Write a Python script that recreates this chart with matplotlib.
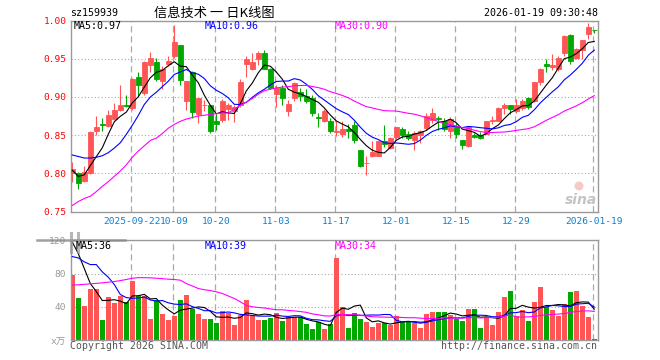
import numpy as np
import pandas as pd
import matplotlib
matplotlib.use('Agg')
import matplotlib.pyplot as plt
from matplotlib.lines import Line2D
from matplotlib.patches import Ellipse

plt.rcParams['font.family'] = ['DejaVu Sans Mono', 'Noto Sans CJK SC']

# daily candles, 2025-09-08 .. 2026-01-19
open_ = [0.800, 0.801, 0.790, 0.801, 0.855, 0.864, 0.862, 0.871, 0.883, 0.889,
         0.886, 0.926, 0.905, 0.942, 0.946, 0.921, 0.943, 0.953, 0.968, 0.894,
         0.932, 0.877, 0.889, 0.889, 0.869, 0.870, 0.884, 0.882, 0.889, 0.943,
         0.937, 0.949, 0.958, 0.937, 0.904, 0.911, 0.881, 0.899, 0.907, 0.901,
         0.899, 0.874, 0.868, 0.869, 0.854, 0.852, 0.858, 0.863, 0.831, 0.813,
         0.822, 0.823, 0.842, 0.833, 0.848, 0.858, 0.852, 0.843, 0.850, 0.859,
         0.870, 0.873, 0.868, 0.855, 0.861, 0.843, 0.836, 0.850, 0.850, 0.852,
         0.868, 0.869, 0.886, 0.889, 0.881, 0.886, 0.898, 0.894, 0.919, 0.943,
         0.939, 0.936, 0.958, 0.981, 0.951, 0.962, 0.982, 0.988]
high = [0.815, 0.802, 0.809, 0.855, 0.875, 0.872, 0.883, 0.892, 0.916, 0.903,
        0.925, 0.932, 0.947, 0.959, 0.951, 0.940, 0.953, 0.994, 0.968, 0.921,
        0.934, 0.898, 0.896, 0.890, 0.877, 0.897, 0.892, 0.890, 0.923, 0.953,
        0.958, 0.960, 0.961, 0.938, 0.916, 0.916, 0.896, 0.920, 0.912, 0.910,
        0.903, 0.879, 0.884, 0.872, 0.868, 0.868, 0.864, 0.868, 0.831, 0.822,
        0.842, 0.842, 0.863, 0.847, 0.861, 0.861, 0.856, 0.855, 0.857, 0.879,
        0.886, 0.875, 0.872, 0.874, 0.866, 0.843, 0.861, 0.853, 0.854, 0.868,
        0.875, 0.887, 0.892, 0.889, 0.897, 0.897, 0.900, 0.919, 0.938, 0.949,
        0.956, 0.953, 0.981, 0.982, 0.964, 0.974, 0.997, 0.988]
low = [0.789, 0.780, 0.789, 0.799, 0.850, 0.855, 0.861, 0.870, 0.881, 0.887,
       0.883, 0.901, 0.903, 0.932, 0.921, 0.910, 0.940, 0.951, 0.916, 0.883,
       0.872, 0.866, 0.881, 0.853, 0.857, 0.867, 0.870, 0.867, 0.887, 0.926,
       0.935, 0.942, 0.936, 0.910, 0.887, 0.889, 0.875, 0.894, 0.894, 0.892,
       0.875, 0.861, 0.867, 0.853, 0.849, 0.847, 0.846, 0.840, 0.808, 0.798,
       0.821, 0.822, 0.835, 0.832, 0.845, 0.846, 0.844, 0.831, 0.840, 0.857,
       0.866, 0.857, 0.856, 0.846, 0.846, 0.832, 0.834, 0.846, 0.845, 0.851,
       0.864, 0.868, 0.878, 0.877, 0.879, 0.883, 0.884, 0.893, 0.916, 0.932,
       0.935, 0.934, 0.954, 0.943, 0.949, 0.950, 0.976, 0.984]
close = [0.805, 0.787, 0.802, 0.854, 0.861, 0.863, 0.876, 0.883, 0.890, 0.888,
         0.924, 0.916, 0.946, 0.951, 0.924, 0.936, 0.947, 0.972, 0.922, 0.921,
         0.880, 0.898, 0.890, 0.856, 0.865, 0.894, 0.890, 0.887, 0.919, 0.949,
         0.946, 0.957, 0.937, 0.912, 0.911, 0.899, 0.891, 0.918, 0.901, 0.894,
         0.879, 0.873, 0.881, 0.855, 0.855, 0.858, 0.855, 0.844, 0.810, 0.814,
         0.828, 0.842, 0.839, 0.846, 0.861, 0.850, 0.846, 0.853, 0.856, 0.875,
         0.879, 0.871, 0.858, 0.871, 0.852, 0.837, 0.861, 0.847, 0.846, 0.868,
         0.870, 0.885, 0.889, 0.884, 0.889, 0.894, 0.887, 0.919, 0.936, 0.941,
         0.942, 0.951, 0.980, 0.947, 0.963, 0.974, 0.992, 0.987]
volume = [78, 50.4, 40.8, 61.2, 61.2, 24, 51.6, 44.4, 52.8, 45.6,
          70.8, 52.8, 52.8, 25.2, 48, 31.2, 24, 28.8, 48, 54,
          37.2, 31.2, 25.2, 25.2, 20.4, 34.8, 32.4, 18, 30, 48,
          30, 24, 24, 26.4, 32.4, 22.8, 27.6, 27.6, 27.6, 19.2,
          13.2, 21.6, 13.2, 19.2, 98.4, 39.6, 14.4, 32.4, 25.2, 21.6,
          15.6, 20.4, 20.4, 18, 28.8, 21.6, 21.6, 20.4, 14.4, 31.2,
          33.6, 33.6, 33.6, 30, 25.2, 22.8, 37.2, 37.2, 14.4, 27.6,
          18, 33.6, 51.6, 58.8, 28.8, 36, 22.8, 45.6, 63.6, 39.6,
          36, 28.8, 43.2, 57.6, 58.8, 40.8, 27.6, 1.2]

# moving-average values at the left edge (window reaches before the first candle)
ma5_head = [0.804, 0.796, 0.798, 0.810]
ma10_head = [0.824, 0.822, 0.820, 0.820, 0.821, 0.823, 0.827, 0.833, 0.840]
ma30_head = [0.758, 0.763, 0.767, 0.770, 0.776, 0.783, 0.789, 0.796, 0.803, 0.811,
             0.821, 0.829, 0.836, 0.843, 0.846, 0.852, 0.859, 0.864, 0.868, 0.871,
             0.873, 0.875, 0.876, 0.877, 0.878, 0.879, 0.879, 0.884, 0.889]
vma5_head = [118, 104, 86, 68]
vma10_head = [100.4, 98.8, 94, 90.8, 90.8, 82, 75.6, 66.8, 54.8]
vma30_head = [66, 66.5, 67, 67.6, 68.2, 68.8, 69.6, 70.4, 71.5, 72.8,
              74.4, 75, 75, 74.8, 74.4, 73.8, 73.2, 72.8, 72, 68,
              65, 62, 60.5, 59.5, 58, 56, 53, 50, 46]

tick_dates = ['2025-09-22', '2025-10-09', '2025-10-20', '2025-11-03', '2025-11-17',
              '2025-12-01', '2025-12-15', '2025-12-29', '2026-01-19']
tick_labels = ['2025-09-22', '10-09', '10-20', '11-03', '11-17',
               '12-01', '12-15', '12-29', '2026-01-19']
holidays = ['2025-10-01', '2025-10-02', '2025-10-03', '2025-10-06', '2025-10-07',
            '2025-10-08', '2026-01-01', '2026-01-02']

days = pd.bdate_range('2025-09-08', '2026-01-19')
days = days[~days.isin(pd.to_datetime(holidays))]
tick_pos = [days.get_loc(pd.Timestamp(d)) for d in tick_dates]


def moving(vals, n, head):
    m = pd.Series(vals, dtype=float).rolling(n).mean().to_numpy()
    m[:n - 1] = head
    return m


o, h, l, c = map(np.array, (open_, high, low, close))
v = np.array(volume)
x = np.arange(len(c))
RED, GREEN = '#ff5555', '#00a800'
cols = np.where(c >= o, RED, GREEN)

W, H = 660, 360
fig = plt.figure(figsize=(6.6, 3.6), dpi=100)


def box(left, top, right, bottom):
    return [left / W, 1 - bottom / H, (right - left) / W, (bottom - top) / H]


def fp(px, py):
    return px / W, 1 - py / H


ax = fig.add_axes(box(70.5, 20.5, 597.7, 211.5))
axv = fig.add_axes(box(70.5, 240.3, 597.7, 340))

for a in (ax, axv):
    a.set_xlim(-0.3, 87.57)
    for s in a.spines.values():
        s.set_color('#999999')
        s.set_linewidth(1)
    for t in tick_pos:
        a.axvline(t - 0.25, color='#aaaaaa', ls=(0, (5, 3)), lw=0.9, zorder=0)

# price panel
for g in (0.80, 0.85, 0.90, 0.95):
    ax.axhline(g, color='#aaaaaa', ls=(0, (1, 2)), lw=0.8, zorder=0)
ax.vlines(x, l, h, colors=cols, lw=0.8, zorder=2)
ax.bar(x, np.abs(c - o), bottom=np.minimum(o, c), width=0.75,
       color=cols, edgecolor=cols, lw=0.6, zorder=3)
ax.plot(x, moving(c, 5, ma5_head), color='black', lw=0.8, zorder=4)
ax.plot(x, moving(c, 10, ma10_head), color='#0000ff', lw=0.8, zorder=4)
ax.plot(x, moving(c, 30, ma30_head), color='#ff00ff', lw=0.8, zorder=4)
ax.set_ylim(0.75, 1.00)
ax.set_yticks([0.75, 0.80, 0.85, 0.90, 0.95, 1.00])
ax.set_yticklabels(['0.75', '0.80', '0.85', '0.90', '0.95', '1.00'])
ax.set_xticks(tick_pos)
ax.set_xticklabels(tick_labels)
ax.tick_params(axis='y', colors='red', length=0, pad=3, labelsize=6.8)
ax.tick_params(axis='x', colors='#0a7fd0', length=0, pad=4, labelsize=6.8)

# volume panel
for g in (40, 80):
    axv.axhline(g, color='#aaaaaa', ls=(0, (1, 2)), lw=0.8, zorder=0)
axv.bar(x, v, width=0.8, color=cols, zorder=2)
axv.plot(x, moving(v, 5, vma5_head), color='black', lw=0.8, zorder=4)
axv.plot(x, moving(v, 10, vma10_head), color='#0000ff', lw=0.8, zorder=4)
axv.plot(x, moving(v, 30, vma30_head), color='#ff00ff', lw=0.8, zorder=4)
axv.set_ylim(0, 120)
axv.set_yticks([0, 40, 80, 120])
axv.set_yticklabels(['x万', '40', '80', '120'])
axv.set_xticks([])
axv.tick_params(axis='y', colors='#999999', length=0, pad=3, labelsize=6.8)

# header and legends
fig.text(*fp(70, 13), 'sz159939', fontsize=7.2, va='center', ha='left')
fig.text(*fp(214, 13), '信息技术 一 日K线图', fontsize=9.5, va='center', ha='center',
         family=['Noto Sans CJK SC'])
fig.text(*fp(597.7, 13), '2026-01-19 09:30:48', fontsize=7.2, va='center', ha='right')

fig.text(*fp(74, 26), 'MA5:0.97', fontsize=7.2, va='center', color='black')
fig.text(*fp(204.5, 26), 'MA10:0.96', fontsize=7.2, va='center', color='#0000ff')
fig.text(*fp(334.6, 26), 'MA30:0.90', fontsize=7.2, va='center', color='#ff00ff')
fig.text(*fp(76, 246), 'MA5:36', fontsize=7.2, va='center', color='black')
fig.text(*fp(205, 246), 'MA10:39', fontsize=7.2, va='center', color='#0000ff')
fig.text(*fp(334.3, 246), 'MA30:34', fontsize=7.2, va='center', color='#ff00ff')

fig.text(*fp(70, 346), 'Copyright 2026 SINA.COM', fontsize=7.1, va='center', color='#555555')
fig.text(*fp(597, 346), 'http://finance.sina.com.cn', fontsize=7.1, va='center',
         ha='right', color='#555555')

# sina watermark
fig.text(*fp(581, 200), 'sina', fontsize=10, va='center', ha='center', color='#c4c4c4',
         family=['DejaVu Sans'], style='italic', weight='bold')
fig.add_artist(Ellipse(fp(579, 186), 9 / W, 9 / H, transform=fig.transFigure,
                       color='#f4b4b4', alpha=0.7, lw=0))

# grey drag handle at the top-left of the volume panel
fig.add_artist(Line2D([37 / W, 125 / W], [1 - 240.3 / H] * 2, transform=fig.transFigure,
                      color='#888888', lw=1.8, alpha=0.8))
for hx in (71, 78):
    fig.add_artist(Line2D([hx / W] * 2, [1 - 233 / H, 1 - 252 / H], transform=fig.transFigure,
                          color='#999999', lw=2.2, alpha=0.7))

fig.savefig('out.png', dpi=100)
